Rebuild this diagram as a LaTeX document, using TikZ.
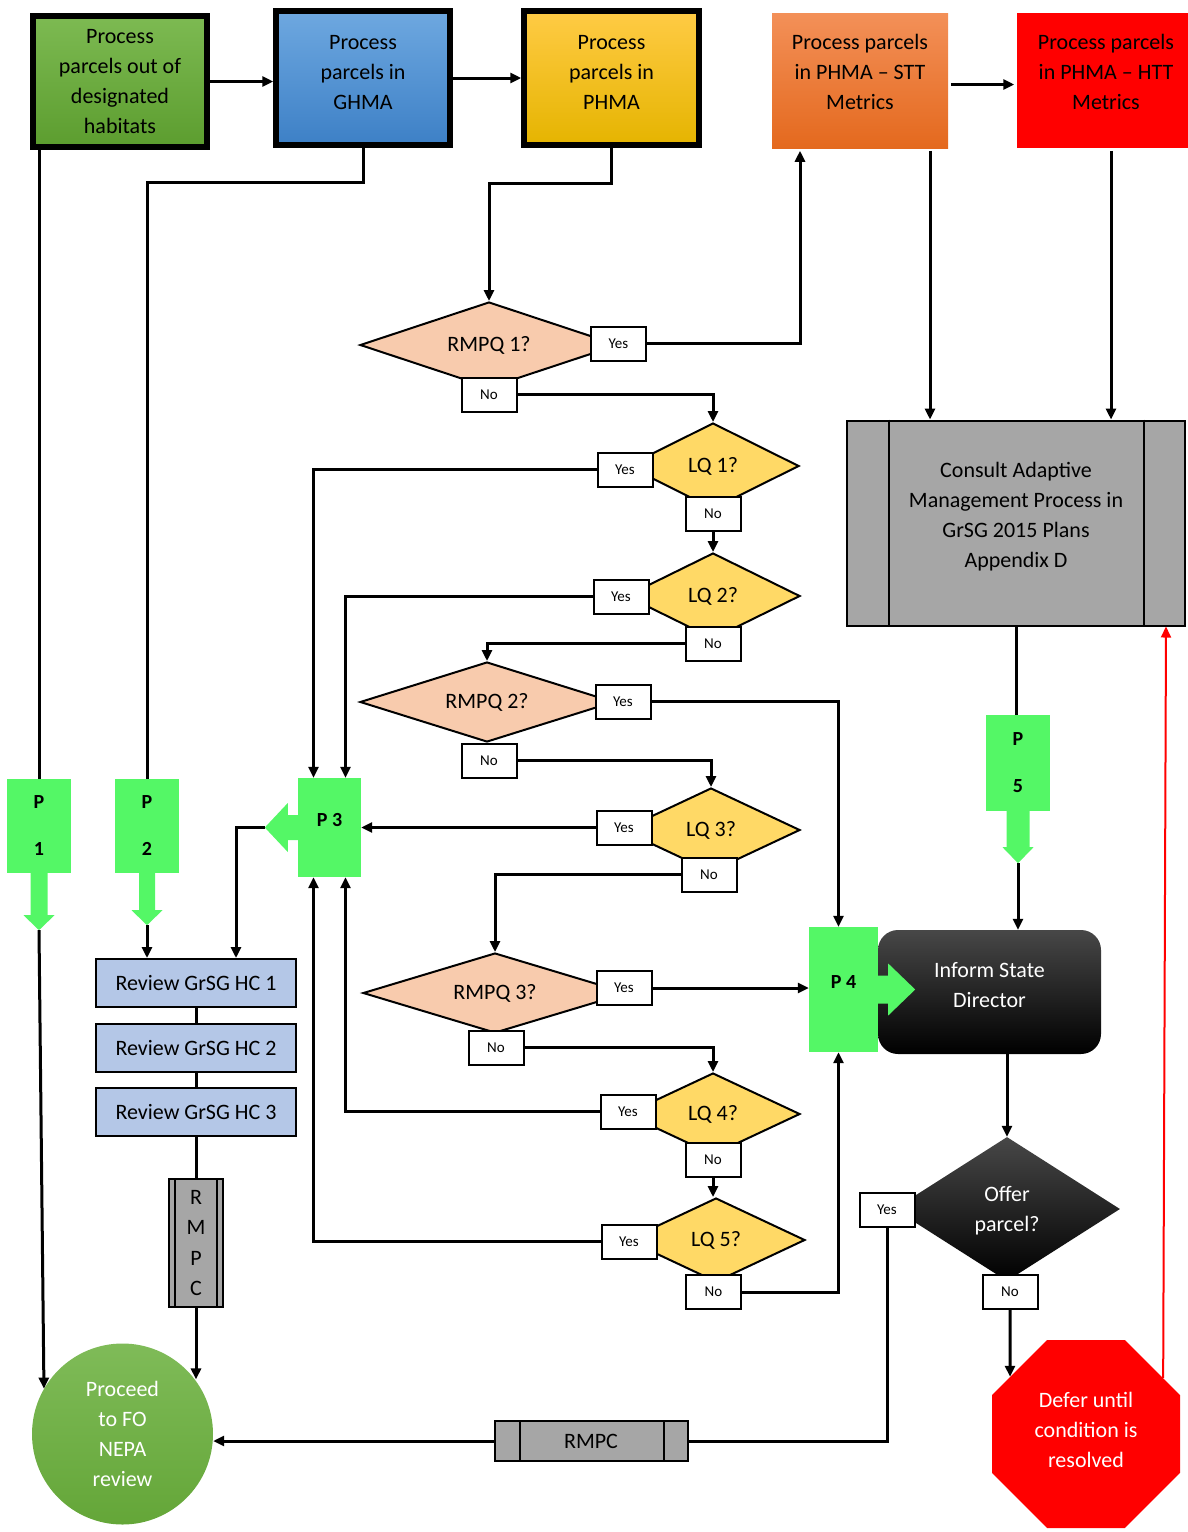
\documentclass[tikz,border=0pt]{standalone}
\usepackage{fontspec}
\setmainfont{Carlito}
\usetikzlibrary{arrows.meta,shapes.geometric}

\definecolor{habtop}{HTML}{7DBA52}
\definecolor{habbot}{HTML}{5C9D2F}
\definecolor{ghmatop}{HTML}{6EA8E0}
\definecolor{ghmabot}{HTML}{3D80C6}
\definecolor{phmatop}{HTML}{FFCB45}
\definecolor{phmamid}{HTML}{FFC000}
\definecolor{phmabot}{HTML}{E5B400}
\definecolor{stttop}{HTML}{F39058}
\definecolor{sttbot}{HTML}{E4691E}
\definecolor{httred}{HTML}{FF0000}
\definecolor{pgreen}{HTML}{54F766}
\definecolor{rmpqfill}{HTML}{F8CBAD}
\definecolor{lqfill}{HTML}{FFD966}
\definecolor{hcfill}{HTML}{B4C7E7}
\definecolor{consultgray}{HTML}{A6A6A6}
\definecolor{nepatop}{HTML}{7FBB58}
\definecolor{nepabot}{HTML}{64A638}

\begin{document}
\begin{tikzpicture}
    [x=1pt, y=-1pt,
    >={Triangle[length=11pt,width=10pt]},
    link/.style = {line width=3pt, ->},
    wire/.style = {line width=3pt},
    bigbox/.style = {rectangle, draw=black, line width=5.5pt, inner sep=0pt,
                     align=center, font=\fontsize{22}{30}\selectfont},
    pbox/.style = {rectangle, fill=pgreen, inner sep=0pt, align=center,
                   font=\bfseries\fontsize{20}{47}\selectfont},
    rmpq/.style = {diamond, aspect=2.5, draw=black, line width=2pt, fill=rmpqfill,
                   inner sep=0pt, font=\fontsize{22}{26}\selectfont},
    lq/.style = {rmpq, fill=lqfill},
    answer/.style = {rectangle, draw=black, line width=2pt, fill=white, inner sep=0pt,
                     minimum width=55pt, minimum height=34pt,
                     font=\fontsize{15}{18}\selectfont},
    review/.style = {rectangle, draw=black, line width=2pt, fill=hcfill, inner sep=0pt,
                     minimum width=200pt, minimum height=48pt,
                     font=\fontsize{22}{26}\selectfont},
    rmpc/.style = {rectangle, draw=black, line width=2pt, fill=consultgray, inner sep=0pt,
                   align=center, font=\fontsize{22}{30.5}\selectfont},
    dark/.style = {top color=black!72, middle color=black, bottom color=black,
                   text=white, align=center, inner sep=0pt,
                   font=\fontsize{22}{30}\selectfont}]
    \useasboundingbox (0,0) rectangle (1188,1532);
    % Top row of processes
    \node[bigbox, top color=habtop, bottom color=habbot,
          minimum width=174pt, minimum height=131pt] (outhab) at (120,81.5)
          {Process\\parcels out of\\designated\\habitats};
    \node[bigbox, top color=ghmatop, bottom color=ghmabot, text depth=12pt,
          minimum width=174pt, minimum height=134pt] (ghma) at (363,78)
          {Process\\parcels in\\GHMA};
    \node[bigbox, top color=phmatop, middle color=phmamid, bottom color=phmabot,
          text depth=12pt, minimum width=175pt, minimum height=134pt] (phma) at (611.5,78)
          {Process\\parcels in\\PHMA};
    \node[bigbox, draw=none, top color=stttop, bottom color=sttbot, text depth=18pt,
          minimum width=176pt, minimum height=135pt] (stt) at (860,80.5)
          {Process parcels\\in PHMA -- STT\\Metrics};
    \node[bigbox, draw=none, fill=httred, text depth=17pt,
          minimum width=178pt, minimum height=135pt] (htt) at (1106,80.5)
          {Process parcels\\in PHMA -- HTT\\Metrics};
    \draw[link] (outhab.east) -- (outhab.east -| ghma.west);
    \draw[link] (ghma.east) -- (ghma.east -| phma.west);
    \draw[link] ([yshift=-4pt]stt.east) -- ([yshift=-4pt]stt.east -| htt.west);

    % Questions
    \node[rmpq, minimum width=258pt, minimum height=86pt] (rmpq1) at (489,345) {RMPQ 1?};
    \node[lq, minimum width=172pt, minimum height=86pt] (lq1) at (713,466) {LQ 1?};
    \node[lq, minimum width=174pt, minimum height=86pt] (lq2) at (713,596) {LQ 2?};
    \node[rmpq, minimum width=254pt, minimum height=80pt] (rmpq2) at (487,702) {RMPQ 2?};
    \node[lq, minimum width=178pt, minimum height=84pt] (lq3) at (711,830) {LQ 3?};
    \node[rmpq, minimum width=264pt, minimum height=80pt] (rmpq3) at (495,993) {RMPQ 3?};
    \node[lq, minimum width=174pt, minimum height=82pt] (lq4) at (713,1114) {LQ 4?};
    \node[lq, minimum width=178pt, minimum height=84pt] (lq5) at (716,1240) {LQ 5?};

    % Answers
    \node[answer] (rmpq1yes) at (618.5,343.5) {Yes};
    \node[answer] (rmpq1no) at (489,394.5) {No};
    \node[answer] (lq1yes) at (625,469.5) {Yes};
    \node[answer] (lq1no) at (713,513.5) {No};
    \node[answer] (lq2yes) at (621,596.5) {Yes};
    \node[answer] (lq2no) at (713,643.5) {No};
    \node[answer] (rmpq2yes) at (623,701.5) {Yes};
    \node[answer] (rmpq2no) at (489,760.5) {No};
    \node[answer] (lq3yes) at (624,827.5) {Yes};
    \node[answer] (lq3no) at (709,874.5) {No};
    \node[answer] (rmpq3yes) at (624,988) {Yes};
    \node[answer] (rmpq3no) at (496,1047.5) {No};
    \node[answer] (lq4yes) at (628,1111.5) {Yes};
    \node[answer] (lq4no) at (713,1159.5) {No};
    \node[answer] (lq5yes) at (629,1241.5) {Yes};
    \node[answer] (lq5no) at (713.5,1292) {No};

    % P boxes
    \node[pbox, minimum width=64pt, minimum height=94pt] (p1) at (39,826) {P\\1};
    \fill[pgreen] (p1.south) -- +(-8.5,0) -- +(-8.5,42) -- +(-15.5,42) -- +(0,57)
        -- +(15.5,42) -- +(8.5,42) -- +(8.5,0) -- cycle;
    \coordinate (p1tip) at ([yshift=-57pt]p1.south);
    \node[pbox, minimum width=64pt, minimum height=94pt] (p2) at (147,826) {P\\2};
    \fill[pgreen] (p2.south) -- +(-8,0) -- +(-8,37) -- +(-15.5,37) -- +(0,52)
        -- +(15.5,37) -- +(8,37) -- +(8,0) -- cycle;
    \coordinate (p2tip) at ([yshift=-52pt]p2.south);
    \node[pbox, minimum width=63pt, minimum height=99pt, text depth=15pt] (p3) at (329.5,827.5) {P 3};
    \fill[pgreen] (p3.west) -- +(0,-12.5) -- +(-10,-12.5) -- +(-10,-24.5) -- +(-33,0)
        -- +(-10,24.5) -- +(-10,12.5) -- +(0,12.5) -- cycle;
    \coordinate (p3tip) at ([xshift=-33pt]p3.west);
    \node[pbox, minimum width=64pt, minimum height=96pt] (p5) at (1018,763) {P\\5};
    \fill[pgreen] (p5.south) -- +(-11.5,0) -- +(-11.5,36) -- +(-15.5,36) -- +(0,52)
        -- +(15.5,36) -- +(11.5,36) -- +(11.5,0) -- cycle;
    \coordinate (p5tip) at ([yshift=-52pt]p5.south);

    % Adaptive management
    \node[rmpc, minimum width=338pt, minimum height=205pt, text depth=16.5pt,
          font=\fontsize{22}{30}\selectfont] (consult) at (1016,523)
          {Consult Adaptive\\Management Process in\\GrSG 2015 Plans\\Appendix D};
    \draw[line width=2pt] ([xshift=43pt]consult.north west) -- ([xshift=43pt]consult.south west);
    \draw[line width=2pt] ([xshift=-42pt]consult.north east) -- ([xshift=-42pt]consult.south east);

    % Inform state director and P 4
    \node[dark, rounded corners=20pt, minimum width=223pt, minimum height=124pt, text depth=15pt]
          (inform) at (989.5,992) {Inform State\\Director};
    \node[pbox, minimum width=69pt, minimum height=125pt, text depth=15pt] (p4) at (843.5,989.5) {P 4};
    \fill[pgreen] (p4.east) -- +(0,-14) -- +(10,-14) -- +(10,-26) -- +(37,0)
        -- +(10,26) -- +(10,14) -- +(0,14) -- cycle;

    % Offer
    \node[dark, diamond, minimum width=226pt, minimum height=144pt, text depth=0pt]
          (offer) at (1007,1209) {Offer\\parcel?};
    \node[answer] (offeryes) at (887,1210) {Yes};
    \node[answer] (offerno) at (1010,1291.5) {No};
    \node[regular polygon, regular polygon sides=8, fill=httred, minimum size=203.5pt,
          inner sep=0pt, text=white, align=center, text depth=8pt,
          font=\fontsize{22}{30}\selectfont]
          (defer) at (1086,1434) {Defer until\\condition is\\resolved};

    % Reviews
    \node[review] (hc1) at (196,983) {Review GrSG HC 1};
    \node[review] (hc2) at (196,1047.5) {Review GrSG HC 2};
    \node[review] (hc3) at (196,1111.5) {Review GrSG HC 3};
    \node[rmpc, minimum width=54pt, minimum height=128pt] (vrmpc) at (196,1243) {R\\M\\P\\C};
    \draw[line width=2pt] ([xshift=7pt]vrmpc.north west) -- ([xshift=7pt]vrmpc.south west);
    \draw[line width=2pt] ([xshift=-7pt]vrmpc.north east) -- ([xshift=-7pt]vrmpc.south east);
    \node[rmpc, minimum width=193pt, minimum height=40pt] (hrmpc) at (591,1441) {RMPC};
    \draw[line width=2pt] ([xshift=26pt]hrmpc.north west) -- ([xshift=26pt]hrmpc.south west);
    \draw[line width=2pt] ([xshift=-25pt]hrmpc.north east) -- ([xshift=-25pt]hrmpc.south east);

    % Proceed
    \node[circle, top color=nepatop, bottom color=nepabot, minimum size=181pt, inner sep=0pt,
          text=white, align=center, font=\fontsize{22}{30}\selectfont]
          (proceed) at (122.5,1434) {Proceed\\to FO\\NEPA\\review};

    % Connectors
    \draw[wire] (p1.north |- outhab.south) -- (p1.north);
    \draw[link] (p1tip) -- (proceed.150);
    \draw[wire] (ghma.south) -- ++(0,35) -| (p2.north);
    \draw[link] (p2tip) -- (p2tip |- hc1.north);
    \draw[link] (phma.south) -- ++(0,36) -| (rmpq1.north);
    \draw[link] (rmpq1yes.east) -| ([xshift=-60pt]stt.south);
    \draw[link] (rmpq1no.east) -| (lq1.north);
    \draw[link] (lq1yes.west) -| ([xshift=-16pt]p3.north);
    \draw[link] (lq1no.south) -- (lq2.north);
    \draw[link] (lq2yes.west) -| ([xshift=16pt]p3.north);
    \draw[link] (lq2no.west) -| (rmpq2.north);
    \draw[link] (rmpq2yes.east) -| ([xshift=-5pt]p4.north);
    \draw[link] (rmpq2no.east) -| (lq3.north);
    \draw[link] (lq3yes.west) -- (lq3yes.west -| p3.east);
    \draw[link] (lq3no.west) -| (rmpq3.north);
    \draw[link] (rmpq3yes.east) -- (rmpq3yes.east -| p4.west);
    \draw[link] (rmpq3no.east) -| (lq4.north);
    \draw[link] (lq4yes.west) -| ([xshift=16pt]p3.south);
    \draw[link] (lq4no.south) -- (lq4no.south |- lq5.north);
    \draw[link] (lq5yes.west) -| ([xshift=-16pt]p3.south);
    \draw[link] (lq5no.east) -| ([xshift=-5pt]p4.south);
    \draw[link] (p3tip) -| ([xshift=40pt]hc1.north);
    \draw[wire] (hc1.south) -- (hc2.north);
    \draw[wire] (hc2.south) -- (hc3.north);
    \draw[wire] (hc3.south) -- (vrmpc.north);
    \draw[link] (vrmpc.south) -- (vrmpc.south |- proceed.37);
    \draw[link] ([xshift=70pt]stt.south) -- ([xshift=70pt]stt.south |- consult.north);
    \draw[link] ([xshift=5pt]htt.south) -- ([xshift=5pt]htt.south |- consult.north);
    \draw[wire] (consult.south) -- (consult.south |- p5.north);
    \draw[link] (p5tip) -- (p5tip |- inform.north);
    \draw[link] (offer.north |- inform.south) -- (offer.north);
    \draw[link] (offerno.south) -- (defer.143);
    \draw[wire] (offeryes.south) |- (hrmpc.east);
    \draw[link] (hrmpc.west) -- (hrmpc.west -| proceed.east);
    \draw[link, red, line width=2pt] (defer.36) -- ([xshift=-20pt]consult.south east);
\end{tikzpicture}
\end{document}
